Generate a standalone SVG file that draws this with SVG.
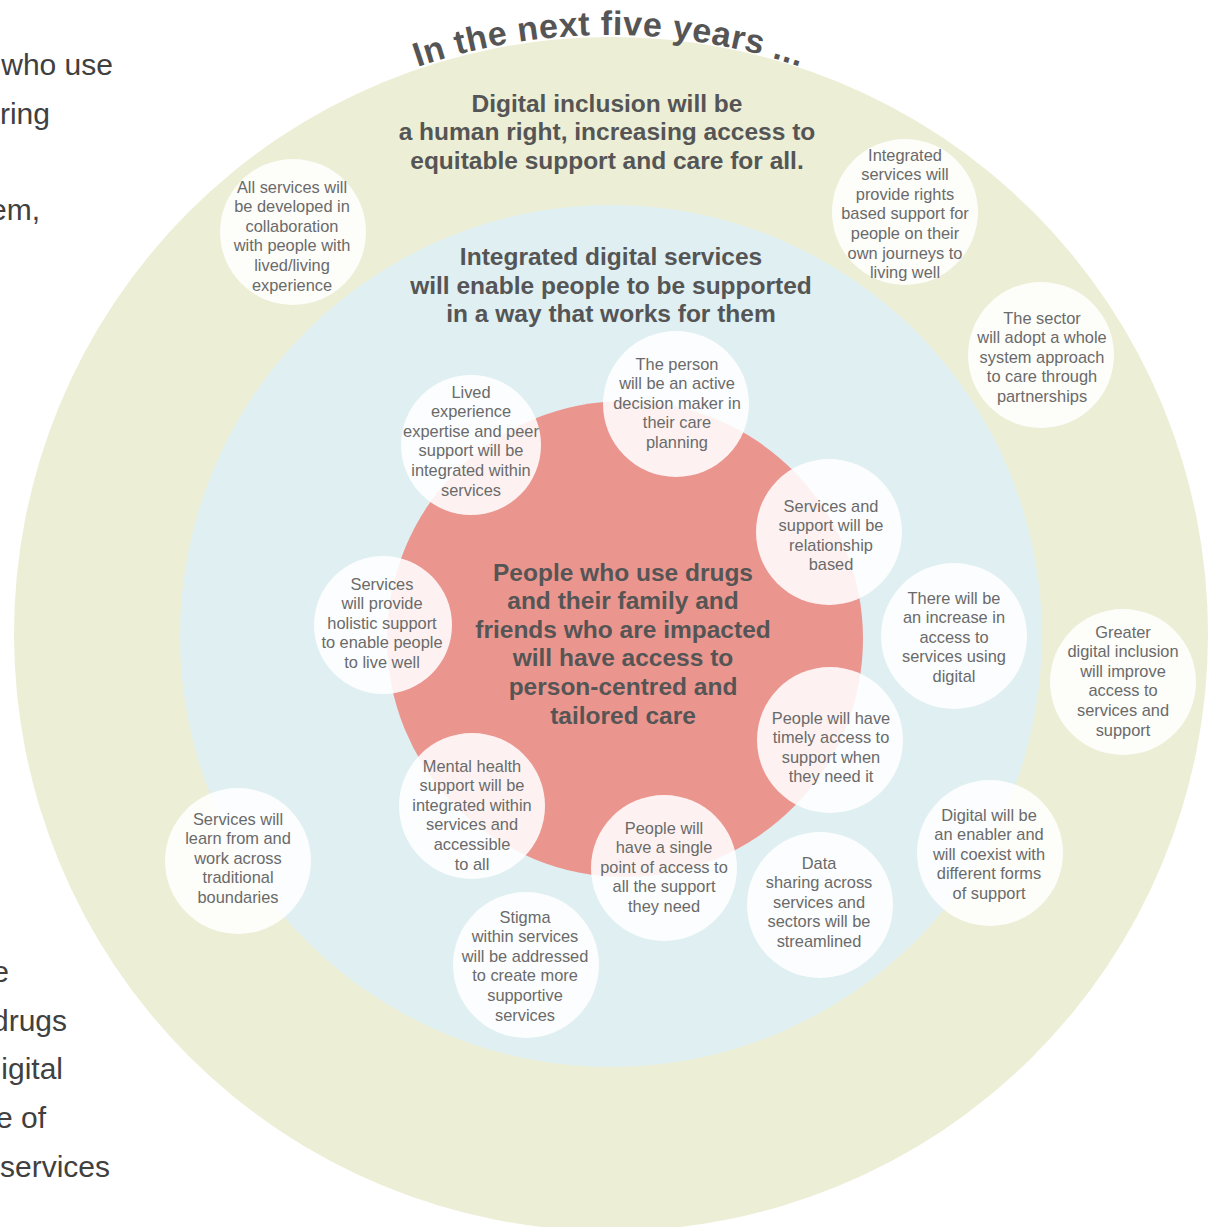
<svg xmlns="http://www.w3.org/2000/svg" width="1218" height="1227" viewBox="0 0 1218 1227">
<defs>
<style>
.side{font-family:"Liberation Sans",Arial,sans-serif;font-size:30px;fill:#404040;text-anchor:end}
.title{font-family:"Liberation Sans",Arial,sans-serif;font-size:24.5px;font-weight:bold;fill:#555555;text-anchor:middle}
.arc{font-family:"Liberation Sans",Arial,sans-serif;font-size:34px;font-weight:bold;fill:#555555;letter-spacing:0.6px}
.bub{fill:#ffffff;fill-opacity:0.88}
.bt{font-family:"Liberation Sans",Arial,sans-serif;font-size:16.4px;fill:#6a6a6a;text-anchor:middle}
</style>
<path id="topArc" d="M 19 625 A 590 590 0 0 1 1199 625" fill="none"/>
</defs>
<rect width="1218" height="1227" fill="#ffffff"/>

<g id="side-text">
<text class="side" x="113" y="75">who use</text>
<text class="side" x="50" y="124">ring</text>
<text class="side" x="40" y="220">em,</text>
<text class="side" x="9" y="982">e</text>
<text class="side" x="67" y="1031">drugs</text>
<text class="side" x="63" y="1079">igital</text>
<text class="side" x="46" y="1128">e of</text>
<text class="side" x="110" y="1177">services</text>
</g>

<g id="outer-ring">
<circle cx="611" cy="634" r="597" fill="#eceed5"/>
<text class="arc"><textPath href="#topArc" startOffset="50%" text-anchor="middle">In the next five years ...</textPath></text>
<text class="title" x="607" y="112">Digital inclusion will be</text>
<text class="title" x="607" y="140">a human right, increasing access to</text>
<text class="title" x="607" y="169">equitable support and care for all.</text>
</g>

<g id="middle-ring">
<circle cx="611" cy="636" r="431" fill="#dfeff2"/>
<text class="title" x="611" y="265">Integrated digital services</text>
<text class="title" x="611" y="294">will enable people to be supported</text>
<text class="title" x="611" y="322">in a way that works for them</text>
</g>

<g id="core">
<circle cx="625" cy="639" r="238" fill="#eb958f"/>
<text class="title" x="623" y="581">People who use drugs</text>
<text class="title" x="623" y="609">and their family and</text>
<text class="title" x="623" y="638">friends who are impacted</text>
<text class="title" x="623" y="666">will have access to</text>
<text class="title" x="623" y="695">person-centred and</text>
<text class="title" x="623" y="724">tailored care</text>
</g>

<g id="connectors"></g>

<g id="n-collab">
<circle class="bub" cx="293" cy="232" r="73"/>
<text class="bt"><tspan x="292" y="192.5">All services will</tspan><tspan x="292" y="212.1">be developed in</tspan><tspan x="292" y="231.7">collaboration</tspan><tspan x="292" y="251.3">with people with</tspan><tspan x="292" y="270.9">lived/living</tspan><tspan x="292" y="290.5">experience</tspan></text>
</g>

<g id="n-rights">
<circle class="bub" cx="905" cy="212" r="73"/>
<text class="bt"><tspan x="905" y="160.5">Integrated</tspan><tspan x="905" y="180.1">services will</tspan><tspan x="905" y="199.7">provide rights</tspan><tspan x="905" y="219.3">based support for</tspan><tspan x="905" y="238.9">people on their</tspan><tspan x="905" y="258.5">own journeys to</tspan><tspan x="905" y="278.1">living well</tspan></text>
</g>

<g id="n-sector">
<circle class="bub" cx="1041" cy="355" r="73"/>
<text class="bt"><tspan x="1042" y="323.5">The sector</tspan><tspan x="1042" y="343.1">will adopt a whole</tspan><tspan x="1042" y="362.7">system approach</tspan><tspan x="1042" y="382.3">to care through</tspan><tspan x="1042" y="401.9">partnerships</tspan></text>
</g>

<g id="n-greater">
<circle class="bub" cx="1123" cy="682" r="73"/>
<text class="bt"><tspan x="1123" y="637.5">Greater</tspan><tspan x="1123" y="657.1">digital inclusion</tspan><tspan x="1123" y="676.7">will improve</tspan><tspan x="1123" y="696.3">access to</tspan><tspan x="1123" y="715.9">services and</tspan><tspan x="1123" y="735.5">support</tspan></text>
</g>

<g id="n-enabler">
<circle class="bub" cx="990" cy="853" r="73"/>
<text class="bt"><tspan x="989" y="820.5">Digital will be</tspan><tspan x="989" y="840.1">an enabler and</tspan><tspan x="989" y="859.7">will coexist with</tspan><tspan x="989" y="879.3">different forms</tspan><tspan x="989" y="898.9">of support</tspan></text>
</g>

<g id="n-data">
<circle class="bub" cx="820" cy="905" r="73"/>
<text class="bt"><tspan x="819" y="868.5">Data</tspan><tspan x="819" y="888.1">sharing across</tspan><tspan x="819" y="907.7">services and</tspan><tspan x="819" y="927.3">sectors will be</tspan><tspan x="819" y="946.9">streamlined</tspan></text>
</g>

<g id="n-stigma">
<circle class="bub" cx="526" cy="965" r="73"/>
<text class="bt"><tspan x="525" y="922.5">Stigma</tspan><tspan x="525" y="942.1">within services</tspan><tspan x="525" y="961.7">will be addressed</tspan><tspan x="525" y="981.3">to create more</tspan><tspan x="525" y="1000.9">supportive</tspan><tspan x="525" y="1020.5">services</tspan></text>
</g>

<g id="n-learn">
<circle class="bub" cx="238" cy="861" r="73"/>
<text class="bt"><tspan x="238" y="824.5">Services will</tspan><tspan x="238" y="844.1">learn from and</tspan><tspan x="238" y="863.7">work across</tspan><tspan x="238" y="883.3">traditional</tspan><tspan x="238" y="902.9">boundaries</tspan></text>
</g>

<g id="n-holistic">
<circle class="bub" cx="383" cy="625" r="69"/>
<text class="bt"><tspan x="382" y="589.5">Services</tspan><tspan x="382" y="609.1">will provide</tspan><tspan x="382" y="628.7">holistic support</tspan><tspan x="382" y="648.3">to enable people</tspan><tspan x="382" y="667.9">to live well</tspan></text>
</g>

<g id="n-lived">
<circle class="bub" cx="471" cy="445" r="70"/>
<text class="bt"><tspan x="471" y="397.5">Lived</tspan><tspan x="471" y="417.1">experience</tspan><tspan x="471" y="436.7">expertise and peer</tspan><tspan x="471" y="456.3">support will be</tspan><tspan x="471" y="475.9">integrated within</tspan><tspan x="471" y="495.5">services</tspan></text>
</g>

<g id="n-person">
<circle class="bub" cx="676" cy="404" r="73"/>
<text class="bt"><tspan x="677" y="369.5">The person</tspan><tspan x="677" y="389.1">will be an active</tspan><tspan x="677" y="408.7">decision maker in</tspan><tspan x="677" y="428.3">their care</tspan><tspan x="677" y="447.9">planning</tspan></text>
</g>

<g id="n-relationship">
<circle class="bub" cx="829" cy="532" r="73"/>
<text class="bt"><tspan x="831" y="511.5">Services and</tspan><tspan x="831" y="531.1">support will be</tspan><tspan x="831" y="550.7">relationship</tspan><tspan x="831" y="570.3">based</tspan></text>
</g>

<g id="n-increase">
<circle class="bub" cx="954" cy="636" r="73"/>
<text class="bt"><tspan x="954" y="603.5">There will be</tspan><tspan x="954" y="623.1">an increase in</tspan><tspan x="954" y="642.7">access to</tspan><tspan x="954" y="662.3">services using</tspan><tspan x="954" y="681.9">digital</tspan></text>
</g>

<g id="n-timely">
<circle class="bub" cx="830" cy="740" r="73"/>
<text class="bt"><tspan x="831" y="723.5">People will have</tspan><tspan x="831" y="743.1">timely access to</tspan><tspan x="831" y="762.7">support when</tspan><tspan x="831" y="782.3">they need it</tspan></text>
</g>

<g id="n-mental">
<circle class="bub" cx="472" cy="806" r="73"/>
<text class="bt"><tspan x="472" y="771.5">Mental health</tspan><tspan x="472" y="791.1">support will be</tspan><tspan x="472" y="810.7">integrated within</tspan><tspan x="472" y="830.3">services and</tspan><tspan x="472" y="849.9">accessible</tspan><tspan x="472" y="869.5">to all</tspan></text>
</g>

<g id="n-single">
<circle class="bub" cx="664" cy="868" r="73"/>
<text class="bt"><tspan x="664" y="833.5">People will</tspan><tspan x="664" y="853.1">have a single</tspan><tspan x="664" y="872.7">point of access to</tspan><tspan x="664" y="892.3">all the support</tspan><tspan x="664" y="911.9">they need</tspan></text>
</g>
</svg>
